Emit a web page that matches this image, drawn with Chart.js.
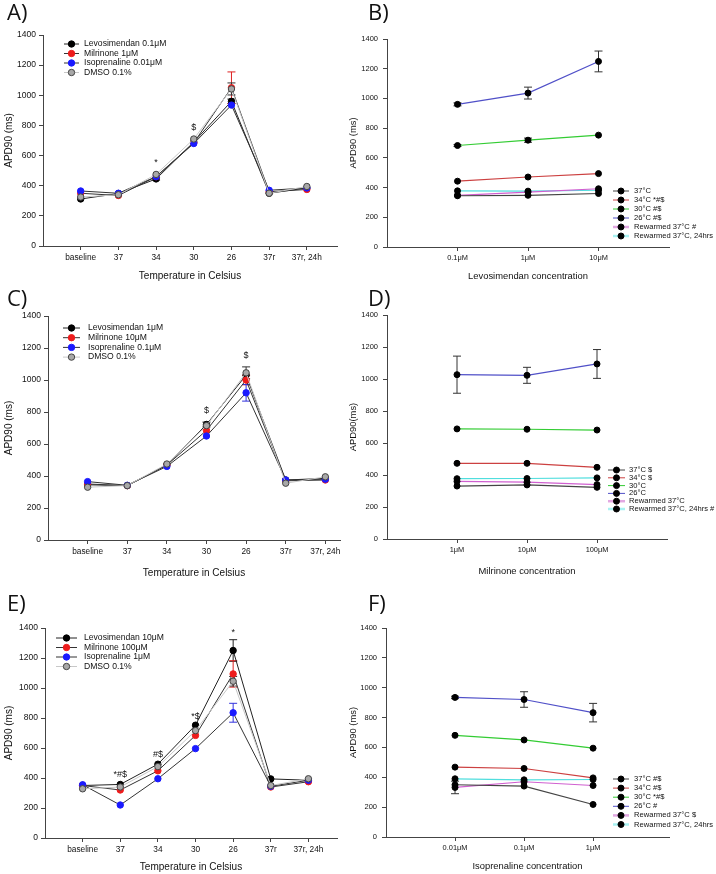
<!DOCTYPE html>
<html>
<head>
<meta charset="utf-8">
<script src="https://cdn.jsdelivr.net/npm/chart.js@4.4.1/dist/chart.umd.min.js"></script>
<style>
  body { margin: 0; background: #fff; width: 716px; height: 874px; position: relative; overflow: hidden; }
  canvas { position: absolute; }
  .tag { position: absolute; font: 22px "Open Sans", "Liberation Sans", sans-serif; line-height: 22px; color: #111; }
</style>
</head>
<body>
<canvas id="cA" width="345" height="283" style="left:0;top:0"></canvas>
<canvas id="cB" width="376" height="283" style="left:340px;top:0"></canvas>
<canvas id="cC" width="345" height="297" style="left:0;top:283px"></canvas>
<canvas id="cD" width="376" height="297" style="left:340px;top:283px"></canvas>
<canvas id="cE" width="345" height="294" style="left:0;top:580px"></canvas>
<canvas id="cF" width="376" height="294" style="left:340px;top:580px"></canvas>
<div class="tag" style="left:7px;top:0">A)</div>
<div class="tag" style="left:368px;top:0">B)</div>
<div class="tag" style="left:7px;top:286px">C)</div>
<div class="tag" style="left:368px;top:286px">D)</div>
<div class="tag" style="left:7px;top:591px">E)</div>
<div class="tag" style="left:368px;top:591px">F)</div>
<script>
// temperature steps (left column)
const tempLabels = ['baseline', '37', '34', '30', '26', '37r', '37r, 24h'];

// A) low doses
const levoA = [312, 348, 445, 690, 960, 350, 385];
const milA = [350, 335, 460, 685, 1050, 360, 375];
const isoA = [365, 350, 460, 680, 935, 370, 385];
const dmsoA = [325, 340, 475, 710, 1042, 350, 395];
const levoErrA = [0, 0, 8, 0, 15, 0, 0];
const milErrA = [0, 0, 0, 0, 105, 0, 0];
const isoErrA = [0, 0, 0, 0, 0, 0, 0];
const dmsoErrA = [0, 0, 0, 0, 40, 0, 0];
const notesA = ['*', '$'];
const notesAx = [2, 3];
const notesAy = [555, 785];

// C) middle doses
const levoC = [345, 340, 470, 722, 1030, 375, 385];
const milC = [350, 340, 468, 685, 1000, 370, 375];
const isoC = [365, 342, 460, 650, 920, 375, 380];
const dmsoC = [330, 340, 475, 715, 1045, 355, 395];
const levoErrC = [0, 0, 0, 15, 0, 0, 0];
const milErrC = [0, 0, 0, 0, 30, 0, 0];
const isoErrC = [0, 0, 0, 0, 52, 0, 0];
const dmsoErrC = [0, 0, 0, 0, 37, 0, 0];
const notesC = ['$', '$'];
const notesCx = [3, 4];
const notesCy = [810, 1150];

// E) high doses
const levoE = [350, 357, 492, 752, 1250, 394, 385];
const milE = [350, 320, 448, 684, 1094, 340, 375];
const isoE = [355, 220, 395, 596, 835, 345, 385];
const dmsoE = [328, 340, 476, 716, 1045, 350, 395];
const levoErrE = [0, 0, 0, 0, 72, 0, 0];
const milErrE = [0, 0, 0, 0, 88, 0, 0];
const isoErrE = [0, 0, 0, 0, 63, 0, 0];
const dmsoErrE = [0, 0, 0, 0, 32, 0, 0];
const notesE = ['*#$', '#$', '*$', '*'];
const notesEx = [1, 2, 3, 4];
const notesEy = [425, 558, 808, 1373];

// B) levosimendan concentration
const levoConc = ['0.1μM', '1μM', '10μM'];
const b37 = [345, 348, 360];
const b34 = [443, 471, 494];
const b30 = [683, 719, 753];
const b26 = [960, 1036, 1249];
const bRw = [348, 370, 392];
const bRw24 = [378, 376, 382];
const b26Err = [10, 40, 70];
const b30Err = [6, 14, 0];
const bKeys = ['37°C', '34°C *#$', '30°C #$', '26°C #$', 'Rewarmed 37°C #', 'Rewarmed 37°C, 24hrs'];

// D) milrinone concentration
const milConc = ['1μM', '10μM', '100μM'];
const d37 = [331, 338, 323];
const d34 = [473, 473, 448];
const d30 = [688, 686, 681];
const d26 = [1027, 1023, 1094];
const dRw = [360, 355, 340];
const dRw24 = [377, 378, 382];
const d26Err = [116, 50, 90];
const dKeys = ['37°C $', '34°C $', '30°C', '26°C', 'Rewarmed 37°C', 'Rewarmed 37°C, 24hrs #'];

// F) isoprenaline concentration
const isoConc = ['0.01μM', '0.1μM', '1μM'];
const f37 = [350, 341, 218];
const f34 = [468, 459, 396];
const f30 = [681, 650, 595];
const f26 = [935, 921, 833];
const fRw = [332, 370, 345];
const fRw24 = [390, 383, 385];
const f26Err = [8, 52, 62];
const fRwErr = [42, 0, 0];
const fKeys = ['37°C #$', '34°C #$', '30°C *#$', '26°C #', 'Rewarmed 37°C $', 'Rewarmed 37°C, 24hrs'];

Chart.defaults.font.family = '"Liberation Sans", Arial, sans-serif';
Chart.defaults.color = '#111';

const pts = vals => vals.map((v, i) => ({ x: i, y: v }));

const errorBars = {
  id: 'errorBars',
  beforeDatasetsDraw(chart) {
    const { ctx, scales: { x, y } } = chart;
    chart.data.datasets.forEach(ds => {
      if (!ds.errors) return;
      ctx.save();
      ctx.strokeStyle = ds.errorColor || '#333';
      ctx.lineWidth = 1;
      ds.errors.forEach((e, i) => {
        if (!e) return;
        const px = x.getPixelForValue(ds.data[i].x);
        const v = ds.data[i].y;
        const top = y.getPixelForValue(v + e), bot = y.getPixelForValue(v - e);
        ctx.beginPath();
        ctx.moveTo(px, top); ctx.lineTo(px, bot);
        ctx.moveTo(px - 4, top); ctx.lineTo(px + 4, top);
        ctx.moveTo(px - 4, bot); ctx.lineTo(px + 4, bot);
        ctx.stroke();
      });
      ctx.restore();
    });
  }
};

const keyBox = {
  id: 'keyBox',
  afterDraw(chart) {
    const o = chart.config.options.plugins.keyBox;
    const ctx = chart.ctx;
    ctx.save();
    ctx.font = o.size + 'px "Liberation Sans", Arial, sans-serif';
    ctx.textBaseline = 'middle';
    ctx.textAlign = 'left';
    chart.data.datasets.forEach((ds, i) => {
      const y = o.y0 + i * o.dy;
      ctx.strokeStyle = ds.keyColor || ds.borderColor;
      ctx.lineWidth = ds.keyWidth || 1;
      ctx.beginPath();
      ctx.moveTo(o.x0, y); ctx.lineTo(o.x1, y);
      ctx.stroke();
      ctx.beginPath();
      ctx.arc((o.x0 + o.x1) / 2, y, ds.pointRadius, 0, Math.PI * 2);
      ctx.fillStyle = ds.pointBackgroundColor;
      ctx.fill();
      ctx.lineWidth = 1;
      ctx.strokeStyle = ds.pointBorderColor;
      ctx.stroke();
      ctx.fillStyle = '#111';
      ctx.fillText(ds.label, o.tx, y);
    });
    ctx.restore();
  }
};

const notes = {
  id: 'notes',
  afterDatasetsDraw(chart) {
    const o = chart.config.options.plugins.notes;
    if (!o) return;
    const { ctx, scales: { x, y } } = chart;
    ctx.save();
    ctx.font = '9px "Liberation Sans", Arial, sans-serif';
    ctx.fillStyle = '#111';
    ctx.textAlign = 'center';
    ctx.textBaseline = 'middle';
    o.text.forEach((t, i) => ctx.fillText(t, x.getPixelForValue(o.at[i]), y.getPixelForValue(o.val[i])));
    ctx.restore();
  }
};

function panel(id, cfg) {
  const cv = document.getElementById(id);
  const W = cv.width, H = cv.height;
  const b = cfg.box;
  const f = cfg.fonts;
  return new Chart(cv, {
    type: 'line',
    data: { datasets: cfg.datasets },
    options: {
      responsive: false,
      animation: false,
      events: [],
      layout: { padding: { left: 0, top: b.top, right: W - b.right, bottom: 0 } },
      plugins: {
        legend: { display: false },
        tooltip: { enabled: false },
        keyBox: cfg.key,
        notes: cfg.notes
      },
      scales: {
        x: {
          type: 'linear', min: cfg.xMin, max: cfg.xMax,
          afterBuildTicks: s => { s.ticks = cfg.labels.map((_, i) => ({ value: i })); },
          afterFit: s => { s.height = H - b.bottom; },
          ticks: { callback: v => cfg.labels[v], font: { size: f.xt }, color: '#111', padding: 3, maxRotation: 0, autoSkip: false },
          grid: { drawOnChartArea: false, tickLength: 4, color: '#444' },
          border: { color: '#444' },
          title: { display: true, text: cfg.xTitle, font: { size: f.title }, color: '#111', padding: { top: 0, bottom: cfg.xTitlePad } }
        },
        y: {
          min: 0, max: 1400,
          afterFit: s => { s.width = b.left; },
          ticks: { stepSize: 200, callback: v => String(v), font: { size: f.yt }, color: '#111', padding: f.ypad },
          grid: { drawOnChartArea: false, tickLength: 4, color: '#444' },
          border: { color: '#444' },
          title: { display: true, text: cfg.yTitle, font: { size: f.title }, color: '#111', padding: { top: cfg.yTitlePad, bottom: 0 } }
        }
      }
    },
    plugins: [errorBars, notes, keyBox]
  });
}

function drugSets(names, vals, errs) {
  const styles = [
    { borderColor: '#222', pointBackgroundColor: '#000', pointBorderColor: '#000', errorColor: '#222', order: 4 },
    { borderColor: '#333', pointBackgroundColor: '#ee1c1c', pointBorderColor: '#ee1c1c', errorColor: '#dd2222', order: 3 },
    { borderColor: '#333', pointBackgroundColor: '#1a1aff', pointBorderColor: '#1a1aff', errorColor: '#3333dd', order: 2 },
    { borderColor: '#c8c8c8', pointBackgroundColor: '#a8a8a8', pointBorderColor: '#444', errorColor: '#333', order: 1 }
  ];
  return names.map((n, i) => Object.assign({
    label: n, data: pts(vals[i]), errors: errs[i],
    borderWidth: 1, pointRadius: 3.2, pointBorderWidth: 1, tension: 0
  }, styles[i]));
}

function tempSets(names, vals, errs) {
  const styles = [
    { borderColor: '#444' },
    { borderColor: '#cc4040' },
    { borderColor: '#33cc33' },
    { borderColor: '#5050c8' },
    { borderColor: '#d060d0', keyColor: '#e2a8e2', keyWidth: 2.5 },
    { borderColor: '#50dede', keyColor: '#a8f2f2', keyWidth: 2.5 }
  ];
  return names.map((n, i) => Object.assign({
    label: n, data: pts(vals[i]), errors: errs[i], errorColor: '#333',
    borderWidth: 1.2, pointRadius: 3, pointBorderWidth: 1, tension: 0,
    pointBackgroundColor: '#000', pointBorderColor: '#000'
  }, styles[i]));
}

const leftFonts = { xt: 8.3, yt: 8.5, title: 10, ypad: 3 };
const rightFonts = { xt: 7.4, yt: 7.5, title: 9.4, ypad: 5 };

panel('cA', {
  box: { left: 43, right: 337, top: 35, bottom: 246 }, xMin: -1, xMax: 6.8,
  labels: tempLabels, xTitle: 'Temperature in Celsius', yTitle: 'APD90 (ms)',
  xTitlePad: 1, yTitlePad: 3, fonts: leftFonts,
  datasets: drugSets(['Levosimendan 0.1μM', 'Milrinone 1μM', 'Isoprenaline 0.01μM', 'DMSO 0.1%'],
    [levoA, milA, isoA, dmsoA], [levoErrA, milErrA, isoErrA, dmsoErrA]),
  key: { x0: 64, x1: 79, tx: 84, y0: 44, dy: 9.5, size: 8.6 },
  notes: { text: notesA, at: notesAx, val: notesAy }
});

panel('cC', {
  box: { left: 48, right: 343, top: 33, bottom: 257 }, xMin: -1, xMax: 6.37,
  labels: tempLabels, xTitle: 'Temperature in Celsius', yTitle: 'APD90 (ms)',
  xTitlePad: 1, yTitlePad: 3, fonts: leftFonts,
  datasets: drugSets(['Levosimendan 1μM', 'Milrinone 10μM', 'Isoprenaline 0.1μM', 'DMSO 0.1%'],
    [levoC, milC, isoC, dmsoC], [levoErrC, milErrC, isoErrC, dmsoErrC]),
  key: { x0: 63, x1: 80, tx: 88, y0: 45, dy: 9.7, size: 8.6 },
  notes: { text: notesC, at: notesCx, val: notesCy }
});

panel('cE', {
  box: { left: 45, right: 337, top: 48, bottom: 258 }, xMin: -1, xMax: 6.76,
  labels: tempLabels, xTitle: 'Temperature in Celsius', yTitle: 'APD90 (ms)',
  xTitlePad: 1, yTitlePad: 3, fonts: leftFonts,
  datasets: drugSets(['Levosimendan 10μM', 'Milrinone 100μM', 'Isoprenaline 1μM', 'DMSO 0.1%'],
    [levoE, milE, isoE, dmsoE], [levoErrE, milErrE, isoErrE, dmsoErrE]),
  key: { x0: 56, x1: 77, tx: 84, y0: 58, dy: 9.5, size: 8.6 },
  notes: { text: notesE, at: notesEx, val: notesEy }
});

panel('cB', {
  box: { left: 47, right: 329, top: 39, bottom: 247 }, xMin: -1, xMax: 3,
  labels: levoConc, xTitle: 'Levosimendan concentration', yTitle: 'APD90 (ms)',
  xTitlePad: 1.4, yTitlePad: 7.4, fonts: rightFonts,
  datasets: tempSets(bKeys, [b37, b34, b30, b26, bRw, bRw24], [null, null, b30Err, b26Err, null, null]),
  key: { x0: 273, x1: 289, tx: 294, y0: 191, dy: 9, size: 7.6 }
});

panel('cD', {
  box: { left: 47, right: 327, top: 32, bottom: 256 }, xMin: -1, xMax: 3,
  labels: milConc, xTitle: 'Milrinone concentration', yTitle: 'APD90(ms)',
  xTitlePad: 3.4, yTitlePad: 7.4, fonts: rightFonts,
  datasets: tempSets(dKeys, [d37, d34, d30, d26, dRw, dRw24], [null, null, null, d26Err, null, null]),
  key: { x0: 268, x1: 285, tx: 289, y0: 187, dy: 7.8, size: 7.6 }
});

panel('cF', {
  box: { left: 46, right: 329, top: 48, bottom: 257 }, xMin: -1, xMax: 3.1,
  labels: isoConc, xTitle: 'Isoprenaline concentration', yTitle: 'APD90 (ms)',
  xTitlePad: 2.4, yTitlePad: 7.4, fonts: rightFonts,
  datasets: tempSets(fKeys, [f37, f34, f30, f26, fRw, fRw24], [null, null, null, f26Err, fRwErr, null]),
  key: { x0: 273, x1: 289, tx: 294, y0: 199, dy: 9.1, size: 7.6 }
});
</script>
</body>
</html>
